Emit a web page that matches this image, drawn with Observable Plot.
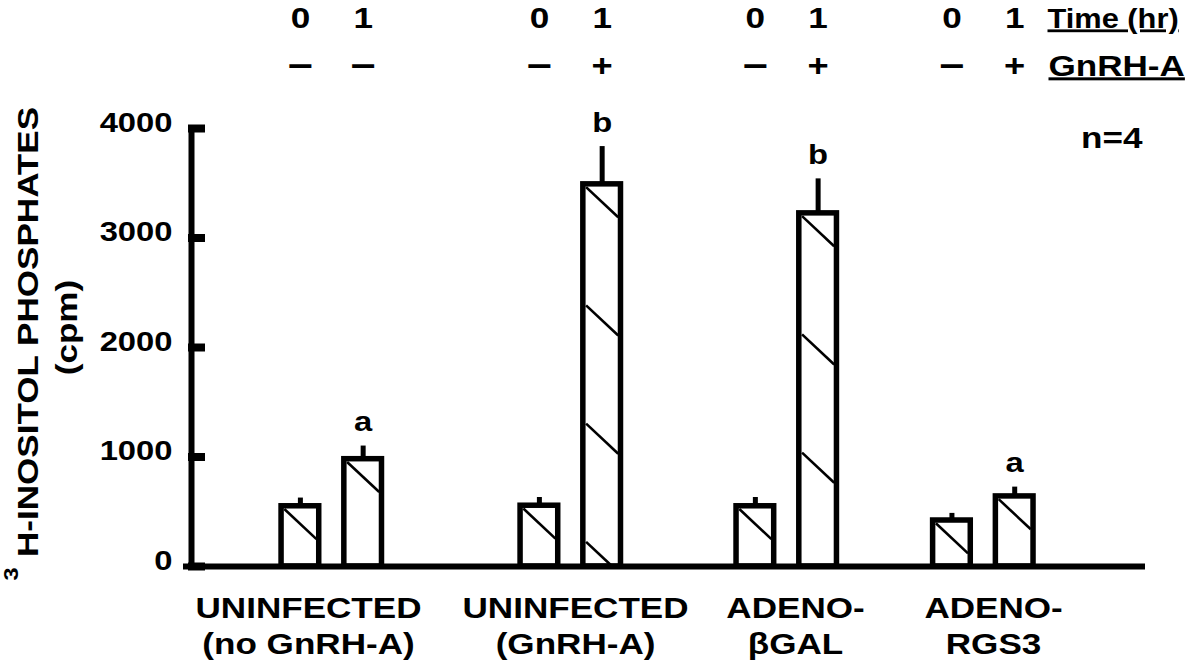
<!DOCTYPE html>
<html>
<head>
<meta charset="utf-8">
<script src="https://cdn.jsdelivr.net/npm/d3@7"></script>
<script src="https://cdn.jsdelivr.net/npm/@observablehq/plot@0.6"></script>
<style>
  html, body { margin: 0; padding: 0; background: #fff; }
  #chart svg { display: block; }
</style>
</head>
<body>
<div id="chart"></div>
<script>
// ---------- data ----------
const groups = ["UNINFECTED\n(no GnRH-A)", "UNINFECTED\n(GnRH-A)", "ADENO-\nβGAL", "ADENO-\nRGS3"];
const barGroup = [0, 0, 1, 1, 2, 2, 3, 3];
const timeHr = ["0", "1", "0", "1", "0", "1", "0", "1"];
const gnrhSign = ["–", "–", "–", "+", "–", "+", "–", "+"];
const values = [550, 980, 555, 3490, 550, 3225, 420, 640];
const sem = [75, 120, 75, 345, 80, 315, 65, 85];
const sigLetters = ["", "a", "", "b", "", "b", "", "a"];
const yTicks = [0, 1000, 2000, 3000, 4000];
const nLabel = "n=4";
const timeLabel = "Time (hr)";
const gnrhLabel = "GnRH-A";
const yLabel = "H-INOSITOL PHOSPHATES";
const yLabelSup = "3";
const yUnit = "(cpm)";

// ---------- layout (not data) ----------
const groupCenter = [2.235, 6.043, 9.484, 12.616];
const groupLabelX = [1.864, 6.119, 9.624, 12.779];
const halfBar = 0.3;
const hatchInset = 0.044;
const hatchStep = 1080;   // vertical spacing of hatch lines (y units)
const hatchDrop = 275;    // vertical drop across the bar (y units)
const hatchTopInset = 25;

const bars = values.map((v, i) => ({
  value: v,
  sem: sem[i],
  sig: sigLetters[i],
  time: timeHr[i],
  sign: gnrhSign[i],
  pos: groupCenter[barGroup[i]] + (i % 2 === 0 ? -0.5 : 0.5)
}));

const hatch = [];
for (const b of bars) {
  const xa = b.pos - halfBar + hatchInset, xb = b.pos + halfBar - hatchInset;
  for (let k = 0; ; k++) {
    const y1 = b.value - hatchTopInset - k * hatchStep;
    if (y1 <= 0) break;
    let y2 = y1 - hatchDrop, x2 = xb;
    if (y2 < 0) { x2 = xa + (xb - xa) * y1 / (y1 - y2); y2 = 0; }
    hatch.push({x1: xa, y1, x2, y2});
  }
}

const groupData = groups.map((g, i) => ({name: g, x: groupLabelX[i]}));
const FW = "bold";

const svg = Plot.plot({
  width: 1200,
  height: 665,
  marginLeft: 191,
  marginRight: 55,
  marginTop: 128,
  marginBottom: 99,
  style: {fontFamily: "'Liberation Sans', Arial, sans-serif", background: "#fff", color: "#000"},
  x: {domain: [0, 15.2], axis: null},
  y: {domain: [0, 4000]},
  marks: [
    Plot.rect(bars, {x1: d => d.pos - halfBar, x2: d => d.pos + halfBar, y1: 0, y2: "value",
      fill: "white", stroke: "black", strokeWidth: 5.5}),
    Plot.link(hatch, {x1: "x1", y1: "y1", x2: "x2", y2: "y2", stroke: "black", strokeWidth: 2.6}),
    Plot.ruleX(bars, {x: "pos", y1: "value", y2: d => d.value + d.sem, stroke: "black", strokeWidth: 5}),
    Plot.ruleX([0], {y1: 0, y2: 4000, stroke: "black", strokeWidth: 6, strokeLinecap: "square"}),
    Plot.ruleY([0], {stroke: "black", strokeWidth: 6, insetLeft: -8}),
    Plot.ruleY(yTicks, {y: d => d, stroke: "black", strokeWidth: 8, insetLeft: -3, insetRight: 954 - 14}),
    Plot.axisY({ticks: yTicks, tickSize: 0, tickPadding: 19, tickFormat: d => String(d),
      fontSize: 28, fontWeight: FW, label: null, dy: 3}),
    Plot.text(bars.filter(d => d.sig), {x: "pos", y: d => d.value + d.sem, text: "sig",
      lineAnchor: "bottom", dy: -15, fontSize: 28, fontWeight: FW}),
    Plot.text(bars, {x: "pos", text: "time", frameAnchor: "top", lineAnchor: "bottom", dy: -101,
      fontSize: 30, fontWeight: FW}),
    Plot.text(bars.filter(d => d.sign !== "+"), {x: "pos", text: "sign", frameAnchor: "top", lineAnchor: "bottom",
      dy: -52, fontSize: 38, fontWeight: FW}),
    Plot.text(bars.filter(d => d.sign === "+"), {x: "pos", text: "sign", frameAnchor: "top", lineAnchor: "bottom",
      dy: -53, fontSize: 31, fontWeight: FW}),
    Plot.text([timeLabel], {frameAnchor: "top-right", textAnchor: "start", lineAnchor: "bottom",
      dx: -98, dy: -101, fontSize: 28, fontWeight: FW}),
    Plot.text([gnrhLabel], {frameAnchor: "top-right", textAnchor: "start", lineAnchor: "bottom",
      dx: -97, dy: -53, fontSize: 30, fontWeight: FW}),
    Plot.text([nLabel], {frameAnchor: "top-right", textAnchor: "end", lineAnchor: "bottom",
      dx: -3, dy: 19, fontSize: 30, fontWeight: FW}),
    Plot.text(groupData, {x: "x", text: "name", frameAnchor: "bottom", lineAnchor: "top",
      dy: 26, lineHeight: 1.2, fontSize: 30, fontWeight: FW}),
    Plot.text([yLabel], {frameAnchor: "left", rotate: -90, textAnchor: "middle", lineAnchor: "bottom",
      dx: -154, dy: -15.5, fontSize: 30, fontWeight: FW}),
    Plot.text([yLabelSup], {frameAnchor: "left", rotate: -90, textAnchor: "middle", lineAnchor: "bottom",
      dx: -174, dy: 226.5, fontSize: 20, fontWeight: FW}),
    Plot.text([yUnit], {frameAnchor: "left", rotate: -90, textAnchor: "middle", lineAnchor: "bottom",
      dx: -115, dy: -20, fontSize: 30, fontWeight: FW})
  ]
});

// widen glyphs horizontally (reference lettering is extended)
svg.querySelectorAll("text").forEach(t => {
  const isHeaderLabel = t.textContent === timeLabel || t.textContent === gnrhLabel;
  const S = t.textContent === timeLabel ? 1.1 : 1.17;
  let tr = t.getAttribute("transform") || "";
  const x = t.getAttribute("x"), y = t.getAttribute("y");
  if (x != null || y != null) {
    tr += ` translate(${+x || 0},${+y || 0})`;
    t.removeAttribute("x"); t.removeAttribute("y");
  }
  t.setAttribute("transform", tr + ` scale(${S},1)`);
  if (isHeaderLabel) t.style.textDecoration = "underline";
});

document.getElementById("chart").appendChild(svg);
</script>
</body>
</html>
